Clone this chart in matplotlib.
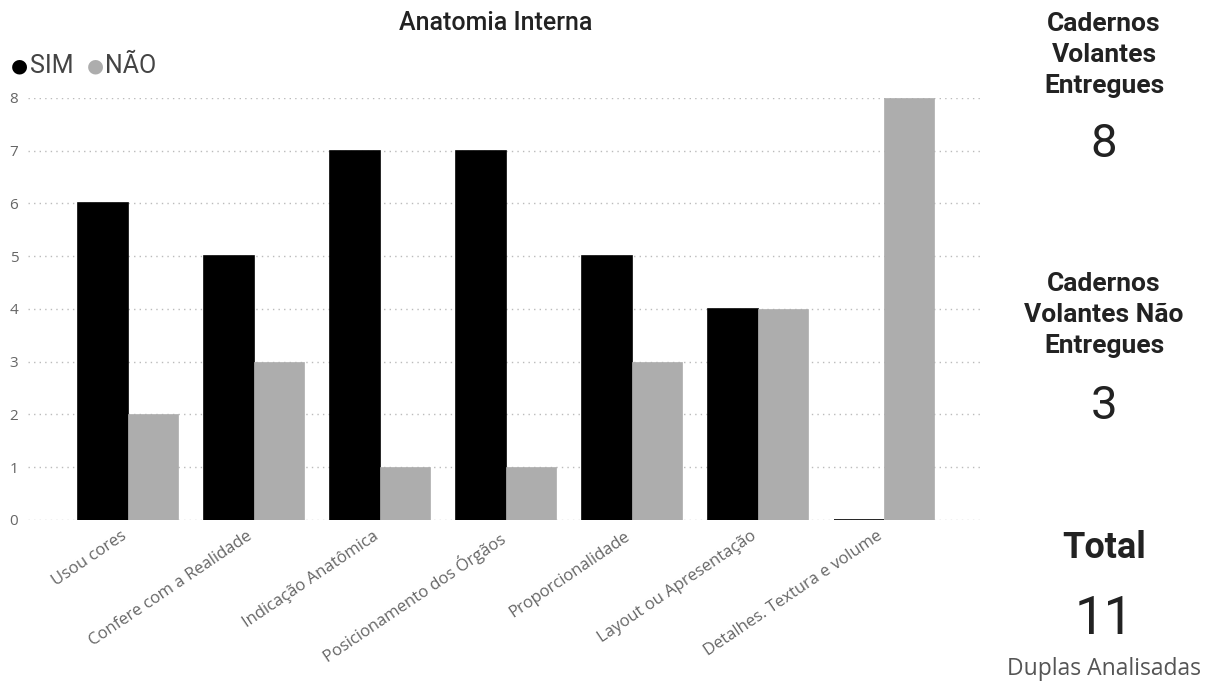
import matplotlib
matplotlib.use("Agg")
import matplotlib.pyplot as plt
import numpy as np

categories = [
    "Usou cores",
    "Confere com a Realidade",
    "Indicação Anatômica",
    "Posicionamento dos Órgãos",
    "Proporcionalidade",
    "Layout ou Apresentação",
    "Detalhes. Textura e volume",
]
sim = [6, 5, 7, 7, 5, 4, 0]
nao = [2, 3, 1, 1, 3, 4, 8]
series_names = ["SIM", "NÃO"]
y_ticks = [0, 1, 2, 3, 4, 5, 6, 7, 8]

card_titles = ["Cadernos\nVolantes\nEntregues", "Cadernos\nVolantes Não\nEntregues", "Total"]
card_values = ["8", "3", "11"]
card_caption = "Duplas Analisadas"

black = "#000000"
gray = "#ADADAD"
label_gray = "#666666"
title_font = ["Roboto", "DejaVu Sans"]
body_font = ["Open Sans", "DejaVu Sans"]

fig = plt.figure(figsize=(12.16, 6.84), dpi=100)
ax = fig.add_axes([0.023, 0.240, 0.785, 0.617])

x = np.arange(len(categories))
w = 0.397
ax.bar(x - w / 2, sim, width=w, color=black, edgecolor=black, linewidth=1.2, zorder=3)
ax.bar(x + w / 2, nao, width=w, color=gray, edgecolor=gray, linewidth=0.5, zorder=3)

ax.set_xlim(-0.794, 6.786)
ax.set_ylim(0, 8)
ax.set_yticks(y_ticks)
ax.set_yticklabels([str(v) for v in y_ticks], color=label_gray, fontsize=11, family=body_font)
ax.yaxis.grid(True, linestyle=(0, (1, 3)), color="#BBBBBB", linewidth=1.0, zorder=0)
ax.set_axisbelow(True)
ax.tick_params(axis="y", length=0, pad=7)
ax.tick_params(axis="x", length=0, pad=6)
ax.set_xticks(x - 0.06)
ax.set_xticklabels(categories, rotation=34, ha="right", rotation_mode="anchor",
                   color=label_gray, fontsize=12, family=body_font)
for s in ax.spines.values():
    s.set_visible(False)

# chart title
fig.text(496 / 1216, 1 - 23 / 684, "Anatomia Interna", ha="center", va="center",
         fontsize=18, family=title_font, fontweight="medium", color="#222222")

# legend
ly = 1 - 66 / 684
fig.text(19 / 1216, ly, "●", ha="center", va="center", fontsize=14, color=black, family=["DejaVu Sans"])
fig.text(30 / 1216, ly, series_names[0], ha="left", va="center", fontsize=18,
         color="#444444", family=title_font)
fig.text(95 / 1216, ly, "●", ha="center", va="center", fontsize=14, color=gray, family=["DejaVu Sans"])
fig.text(105 / 1216, ly, series_names[1], ha="left", va="center", fontsize=18,
         color="#444444", family=title_font)

# summary cards on the right
cx = 1104 / 1216
card_kw = dict(ha="center", va="center", family=title_font, color="#222222")
fig.text(cx, 1 - 55 / 684, card_titles[0], fontsize=19, fontweight="bold",
         linespacing=1.38, **card_kw)
fig.text(cx, 1 - 144 / 684, card_values[0], fontsize=34, **card_kw)
fig.text(cx, 1 - 315 / 684, card_titles[1], fontsize=19, fontweight="bold",
         linespacing=1.38, **card_kw)
fig.text(cx, 1 - 406 / 684, card_values[1], fontsize=34, **card_kw)
fig.text(cx, 1 - 548 / 684, card_titles[2], fontsize=26, fontweight="bold", **card_kw)
fig.text(cx, 1 - 620 / 684, card_values[2], fontsize=38, **card_kw)
fig.text(cx, 1 - 669 / 684, card_caption, ha="center", va="center", fontsize=16.5,
         family=body_font, color="#555555")

fig.savefig("out.png", dpi=100)
